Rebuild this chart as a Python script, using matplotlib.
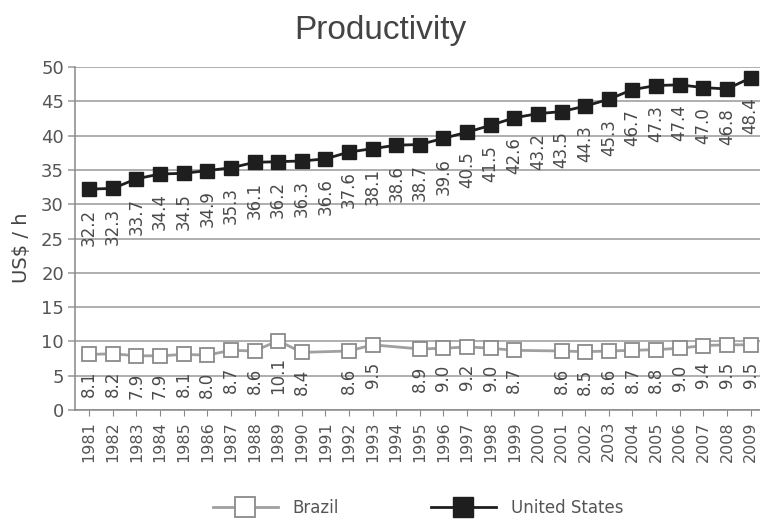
import numpy as np
import matplotlib.pyplot as plt

years = list(range(1981, 2010))
brazil = [8.1, 8.2, 7.9, 7.9, 8.1, 8.0, 8.7, 8.6, 10.1, 8.4, np.nan, 8.6, 9.5, np.nan,
          8.9, 9.0, 9.2, 9.0, 8.7, np.nan, 8.6, 8.5, 8.6, 8.7, 8.8, 9.0, 9.4, 9.5, 9.5]
usa = [32.2, 32.3, 33.7, 34.4, 34.5, 34.9, 35.3, 36.1, 36.2, 36.3, 36.6, 37.6, 38.1, 38.6,
       38.7, 39.6, 40.5, 41.5, 42.6, 43.2, 43.5, 44.3, 45.3, 46.7, 47.3, 47.4, 47.0, 46.8, 48.4]

x = np.array(years)
br = np.array(brazil)
us = np.array(usa)
ok = ~np.isnan(br)

fig = plt.figure(figsize=(7.6, 5.19), dpi=100)
ax = fig.add_axes([75/760, 1-410/519, 685/760, 343/519])

ax.plot(x[ok], br[ok], '-', color='#a0a0a0', lw=2, marker='s', ms=9.5,
        mfc='white', mec='#8a8a8a', mew=1.3, label='Brazil', zorder=3)
ax.plot(x, us, '-', color='#1e1e1e', lw=2, marker='s', ms=9.5,
        mfc='#1e1e1e', mec='#1e1e1e', label='United States', zorder=4)

for xi, v in zip(x[ok], br[ok]):
    ax.annotate(f"{v:.1f}", (xi, v), xytext=(0, -12), textcoords='offset points',
                rotation=90, ha='center', va='top', fontsize=12, color='#4a4a4a')
for xi, v in zip(x, us):
    ax.annotate(f"{v:.1f}", (xi, v), xytext=(0, -14), textcoords='offset points',
                rotation=90, ha='center', va='top', fontsize=12, color='#4a4a4a')

ax.set_xlim(1980.4, 2009.4)
ax.set_ylim(0, 50)
ax.set_yticks(range(0, 51, 5))
ax.set_xticks(years)
ax.set_xticklabels([str(y) for y in years], rotation=90)
ax.tick_params(axis='x', length=4, color='#888888', labelsize=11.5, labelcolor='#555555', pad=4)
ax.tick_params(axis='y', length=5, color='#999999', width=1.1, labelsize=13, labelcolor='#555555', pad=3)
ax.grid(axis='y', color='#999999', lw=1.1)
ax.set_axisbelow(True)
for s in ['top', 'right']:
    ax.spines[s].set_visible(False)
for s in ['left', 'bottom']:
    ax.spines[s].set_color('#888888')
    ax.spines[s].set_linewidth(1.1)

fig.text(0.5, 1-30/519, "Productivity", ha='center', va='center',
         family='Liberation Sans', fontsize=24, color='#444444')
fig.text(22/760, 1-248/519, "US$ / h", rotation=90, ha='center', va='center',
         fontsize=14, color='#444444')

fig.legend(loc='center', bbox_to_anchor=(418/760, 1-508/519), ncol=2, frameon=False,
           fontsize=12, handlelength=3.9, handletextpad=0.9, columnspacing=5.5,
           markerscale=1.5, labelcolor='#555555')

fig.savefig('out.png', dpi=100)
